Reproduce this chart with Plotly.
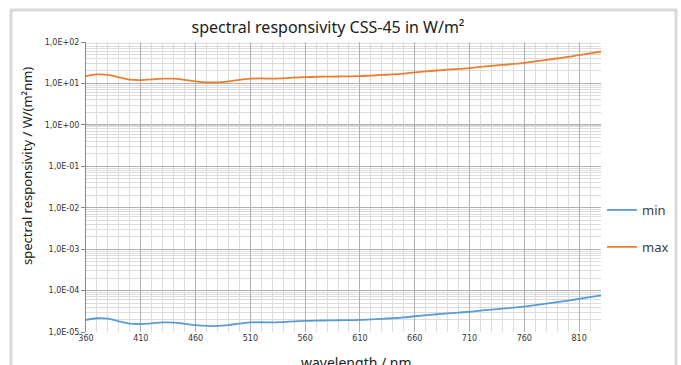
import plotly.graph_objects as go

wavelength = list(range(360, 840, 10))
max_vals = [15, 16.5, 16, 14, 12.3, 12, 12.5, 13, 13, 12.2, 11.2, 10.6, 10.6, 11.2, 12.2, 13,
            13.2, 13, 13.3, 13.8, 14.2, 14.5, 14.6, 14.7, 14.8, 15, 15.5, 16, 16.5, 17.3, 18.5,
            19.5, 20.5, 21.5, 22.5, 23.5, 25, 26.5, 28, 29.5, 31.5, 34, 37, 40, 44, 48, 53, 59]
min_vals = [1.95e-5, 2.15e-5, 2.1e-5, 1.8e-5, 1.6e-5, 1.56e-5, 1.62e-5, 1.7e-5, 1.69e-5, 1.58e-5,
            1.46e-5, 1.4e-5, 1.4e-5, 1.47e-5, 1.6e-5, 1.7e-5, 1.72e-5, 1.7e-5, 1.74e-5, 1.8e-5,
            1.85e-5, 1.88e-5, 1.9e-5, 1.92e-5, 1.93e-5, 1.96e-5, 2.02e-5, 2.08e-5, 2.15e-5, 2.25e-5,
            2.4e-5, 2.55e-5, 2.68e-5, 2.82e-5, 2.95e-5, 3.08e-5, 3.28e-5, 3.47e-5, 3.66e-5, 3.86e-5,
            4.12e-5, 4.45e-5, 4.85e-5, 5.25e-5, 5.75e-5, 6.3e-5, 6.95e-5, 7.7e-5]

x_ticks = [360, 410, 460, 510, 560, 610, 660, 710, 760, 810]
y_tickvals = [1e-5, 1e-4, 1e-3, 1e-2, 1e-1, 1e0, 1e1, 1e2]
y_ticktext = ["1,0E-05", "1,0E-04", "1,0E-03", "1,0E-02", "1,0E-01", "1,0E+00", "1,0E+01", "1,0E+02"]

FONT = "DejaVu Sans"
TFONT = "Noto Sans"

fig = go.Figure()
fig.add_trace(go.Scatter(x=wavelength, y=min_vals, name="min", mode="lines",
                         line=dict(color="#5b9bd5", width=1.8, shape="spline"), legendgroup="a"))
fig.add_trace(go.Scatter(x=wavelength, y=max_vals, name="max", mode="lines",
                         line=dict(color="#ed7d31", width=1.8, shape="spline"), legendgroup="b"))

fig.update_layout(
    width=681, height=365,
    margin=dict(l=86, r=80, t=42, b=33, autoexpand=False),
    paper_bgcolor="white", plot_bgcolor="white",
    font=dict(family=FONT, color="#404040"),
    title=dict(text="spectral responsivity CSS-45 in W/m²", x=328 / 681, xanchor="center",
               y=1 - 27 / 365, yanchor="middle", font=dict(size=16, color="#202020", family=TFONT)),
    showlegend=True,
    legend=dict(x=1.002, y=(332 - 195) / 290, xanchor="left", yanchor="top",
                font=dict(size=13, color="#404040", family=TFONT), tracegroupgap=17,
                traceorder="grouped", bgcolor="rgba(0,0,0,0)", itemwidth=30),
    xaxis=dict(range=[360, 830], tickvals=x_ticks, ticks="", showline=False,
               tickfont=dict(size=8, color="#333333"),
               showgrid=True, gridcolor="#b0b0b0", gridwidth=1,
               minor=dict(dtick=10, tick0=360, showgrid=True, gridcolor="#dcdcdc", gridwidth=1),
               zeroline=False, automargin=False),
    yaxis=dict(type="log", range=[-5, 2], tickvals=y_tickvals, ticktext=y_ticktext,
               ticks="outside", ticklen=4, tickcolor="#888888",
               tickfont=dict(size=8, color="#333333"),
               showline=True, linecolor="#888888", linewidth=1,
               showgrid=True, gridcolor="#b0b0b0", gridwidth=1,
               minor=dict(dtick="D1", showgrid=True, gridcolor="#dcdcdc", gridwidth=1),
               zeroline=False, automargin=False),
    annotations=[
        dict(text="wavelength / nm", xref="paper", yref="paper", x=(356 - 86) / 515,
             y=-(362 - 332) / 290,
             xanchor="center", yanchor="middle", showarrow=False,
             font=dict(size=14, color="#202020", family=TFONT)),
        dict(text="spectral responsivity / W/(m²nm)", xref="paper", yref="paper",
             x=-(86 - 27) / 515, y=(332 - 166) / 290, xanchor="center", yanchor="middle",
             textangle=-90, showarrow=False, font=dict(size=13, color="#202020", family=TFONT)),
    ],
    shapes=[
        dict(type="line", xref="paper", yref="y", x0=0, x1=1, y0=1, y1=1,
             line=dict(color="#888888", width=1), layer="below"),
        dict(type="rect", xref="paper", yref="paper",
             x0=-(86 - 11) / 515, x1=1 + (676 - 601) / 515,
             y0=-(400 - 332) / 290, y1=1 + (42 - 10) / 290,
             line=dict(color="#d9d9d9", width=3), layer="below"),
    ],
)

fig.write_html("out.html", config={"displayModeBar": False},
               post_script="document.body.style.margin='0';")
